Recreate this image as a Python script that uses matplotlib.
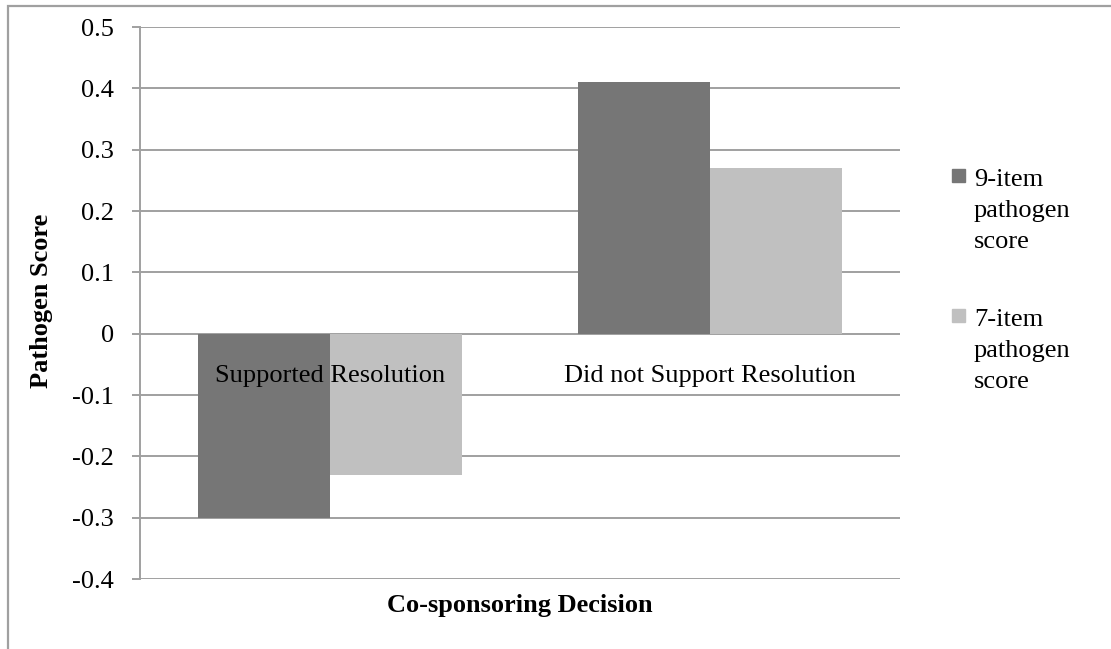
import matplotlib
matplotlib.use("Agg")
import matplotlib.pyplot as plt
from matplotlib.patches import Rectangle
import numpy as np

plt.rcParams['font.family'] = ['Liberation Serif', 'DejaVu Serif']

# Data
categories = ["Supported Resolution", "Did not Support Resolution"]
series_names = ["9-item\npathogen\nscore", "7-item\npathogen\nscore"]
score_9item = [-0.30, 0.41]
score_7item = [-0.23, 0.27]
y_ticks = [0.5, 0.4, 0.3, 0.2, 0.1, 0.0, -0.1, -0.2, -0.3, -0.4]
y_tick_labels = ["0.5", "0.4", "0.3", "0.2", "0.1", "0", "-0.1", "-0.2", "-0.3", "-0.4"]

colors = ["#767676", "#c0c0c0"]
grid_color = "#a0a0a0"
fs = 19

W, H = 1111, 649
fig = plt.figure(figsize=(W / 100, H / 100), dpi=100)
fig.patch.set_facecolor("white")

# outer chart-area frame (runs off the right and bottom edges)
fig.add_artist(Rectangle((8 / W, -0.05), 1.05, 1 - 6 / H + 0.05,
                         transform=fig.transFigure, fill=False,
                         edgecolor=grid_color, linewidth=1.6))

ax = fig.add_axes([140 / W, 1 - 579 / H, 760 / W, 552 / H])
ax.set_xlim(0, 2)
ax.set_ylim(-0.4, 0.5)

x = np.arange(len(categories)) + 0.5
bw = 132 / 380
ax.bar(x - bw / 2, score_9item, bw, color=colors[0], zorder=2)
ax.bar(x + bw / 2, score_7item, bw, color=colors[1], zorder=2)

ax.set_yticks(y_ticks)
ax.set_yticklabels(y_tick_labels, fontsize=fs)
ax.yaxis.grid(True, color=grid_color, linewidth=1.4, zorder=1)
ax.set_axisbelow(True)
ax.tick_params(axis="y", length=5.8, width=1.4, color=grid_color, pad=13)
ax.set_xticks([])

for side in ["top", "right", "bottom"]:
    ax.spines[side].set_visible(False)
ax.spines["left"].set_color(grid_color)
ax.spines["left"].set_linewidth(1.4)

# category labels sit just under the zero line
for xi, cat in zip(x, categories):
    ax.annotate(cat, xy=(xi, 0), xytext=(0, -42), textcoords="offset pixels",
                ha="center", va="center", fontsize=fs)

ax.set_ylabel("Pathogen Score", fontsize=fs, fontweight="bold")
ax.yaxis.set_label_coords(-87 / 760, 0.504)
ax.set_xlabel("Co-sponsoring Decision", fontsize=fs, fontweight="bold")
ax.xaxis.set_label_coords(0.5, -15 / 552)

# legend: square swatch beside a three-line label
leg_rows = [(169, 248), (309, 388)]
for (sq_top, last_base), name, col in zip(leg_rows, series_names, colors):
    fig.add_artist(Rectangle((952 / W, 1 - (sq_top + 13) / H), 13 / W, 13 / H,
                             transform=fig.transFigure, color=col))
    fig.text(974 / W, 1 - last_base / H, name, fontsize=fs, ha="left",
             va="baseline", linespacing=1.52)

fig.savefig("out.png", dpi=100)
